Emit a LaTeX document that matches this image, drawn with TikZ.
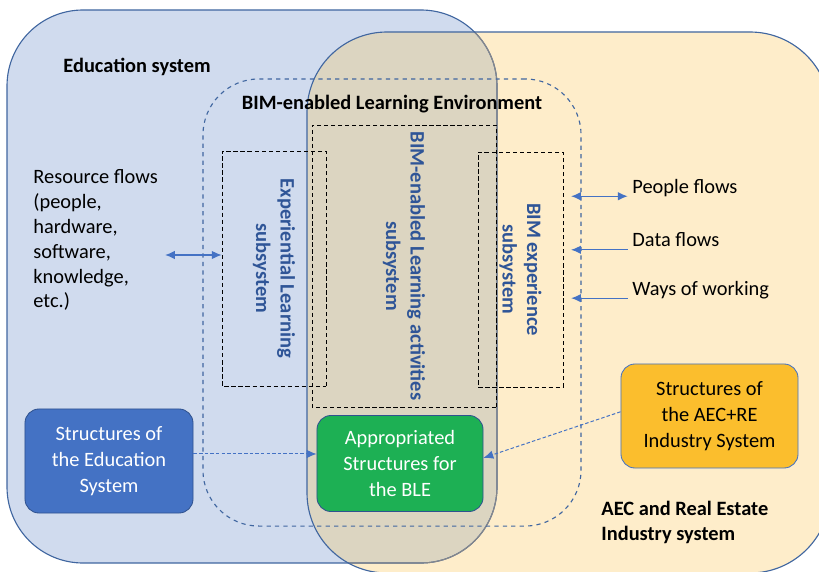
\documentclass[tikz,border=0pt]{standalone}
\usepackage{fontspec}
\setmainfont{Carlito}
\usetikzlibrary{positioning,arrows.meta}
\definecolor{edufill}{HTML}{D0DBEE}
\definecolor{aecfill}{HTML}{FEEDCA}
\definecolor{mixfill}{HTML}{DCD5C1}
\definecolor{rim}{HTML}{4066A0}
\definecolor{greyrim}{HTML}{86878A}
\definecolor{subtext}{HTML}{2F5597}
\definecolor{flowblue}{HTML}{4472C4}
\definecolor{edubox}{HTML}{4472C4}
\definecolor{blebox}{HTML}{1DB054}
\definecolor{aecbox}{HTML}{FBBE2D}
\definecolor{boxrim}{HTML}{2F528F}

\begin{document}
\begin{tikzpicture}[x=0.025cm, y=-0.025cm, semithick,
plain/.style={inner sep=0pt, font=\fontsize{14.5}{17.7}\selectfont},
heading/.style={plain, font=\fontsize{14.5}{17.7}\selectfont\bfseries},
subsys/.style={rectangle, draw=black, densely dashed, thin, rotate=-90,
    align=center, text=subtext, font=\fontsize{14.6}{17.5}\selectfont\bfseries},
ble/.style={rectangle, draw=rim, dashed, line width=0.8pt, rounded corners=1.4cm,
    minimum width=9.45cm, minimum height=11.175cm},
struct/.style={rectangle, rounded corners=0.35cm, draw=boxrim, align=center,
    inner sep=0pt, font=\fontsize{14.5}{18.5}\selectfont,
    minimum width=4.2cm, minimum height=2.6cm},
flowarrow/.style={flowblue, line width=0.9pt, -{Latex[length=7pt,width=6pt]}},
twoway/.style={flowarrow, {Latex[length=7pt,width=6pt]}-{Latex[length=7pt,width=6pt]}},
structlink/.style={flowblue, line width=0.7pt, dash pattern=on 2.5pt off 1.5pt,
    -{Latex[length=7pt,width=6pt]}}
]
\useasboundingbox (0,0) rectangle (819,571);
\clip (0,0) rectangle (819,571);

\fill[aecfill, rounded corners=2cm] (307,32) rectangle (830,573);
\fill[edufill, rounded corners=1.9cm] (7,10) rectangle (497,563);
\begin{scope}
  \clip[rounded corners=1.9cm] (7,10) rectangle (497,563);
  \fill[mixfill, rounded corners=2cm] (307,32) rectangle (830,573);
\end{scope}
\draw[rim, line width=0.8pt, rounded corners=1.9cm] (7,10) rectangle (497,563);
\begin{scope}
  \clip[rounded corners=2cm] (307,32) rectangle (830,573);
  \draw[greyrim, line width=0.8pt, rounded corners=1.9cm] (7,10) rectangle (497,563);
\end{scope}
\draw[rim, line width=0.8pt, rounded corners=2cm] (307,32) rectangle (830,573);

\node[ble] (env) at (392,302.5) {};
\node[heading, anchor=west] (edu) at (63,67) {Education system};
\node[heading] (envtitle) at (392,104) {BIM-enabled Learning Environment};
\node[heading, align=left, anchor=north west] (aec) at (601,501)
    {AEC and Real Estate\\Industry system};

\node[subsys, minimum width=5.875cm, minimum height=2.6cm] (exp)
    at (274,268.5) {Experiential Learning\\subsystem};
\node[subsys, minimum width=7.05cm, minimum height=4.6cm] (act)
    at (404,266) {BIM-enabled Learning activities\\subsystem};
\node[subsys, minimum width=5.875cm, minimum height=2.125cm] (bimx)
    at (520.5,269.5) {BIM experience\\subsystem};

\node[plain, align=left, anchor=north west] (res) at (33,169)
    {Resource flows\\(people,\\hardware,\\software,\\knowledge,\\etc.)};
\coordinate (resend) at (165,255);
\draw[twoway] (resend) -- (resend -| exp.south);

\node[plain, anchor=west] (people) at (632,188) {People flows};
\node[plain, below=1.3cm of people.west, anchor=west] (data) {Data flows};
\node[plain, below=1.25cm of data.west, anchor=west] (ways) {Ways of working};
\coordinate (tip) at (571,0);
\draw[twoway] ([yshift=-2pt]tip |- people.base)
    -- ([xshift=-3pt, yshift=-2pt]people.base west);
\draw[flowarrow] ([xshift=-3pt, yshift=-2pt]data.base west)
    -- ([yshift=-2pt]tip |- data.base);
\draw[flowarrow] ([xshift=-3pt, yshift=-2pt]ways.base west)
    -- ([yshift=-2pt]tip |- ways.base);

\node[struct, fill=edubox, text=white] (edus) at (109,461)
    {Structures of\\the Education\\System};
\node[struct, fill=blebox, text=white, minimum width=4.15cm,
    minimum height=2.4cm] (bles) at (400,463.5)
    {Appropriated\\Structures for\\the BLE};
\node[struct, fill=aecbox, draw=flowblue, minimum width=4.425cm] (aecs)
    at (709.5,416) {Structures of\\the AEC+RE\\Industry System};

\draw[structlink] ([yshift=5pt]edus.east) -- ([yshift=5pt]edus.east -| bles.west);
\draw[structlink] ([yshift=3pt]aecs.west) -- ([yshift=4pt]bles.east);
\end{tikzpicture}
\end{document}
